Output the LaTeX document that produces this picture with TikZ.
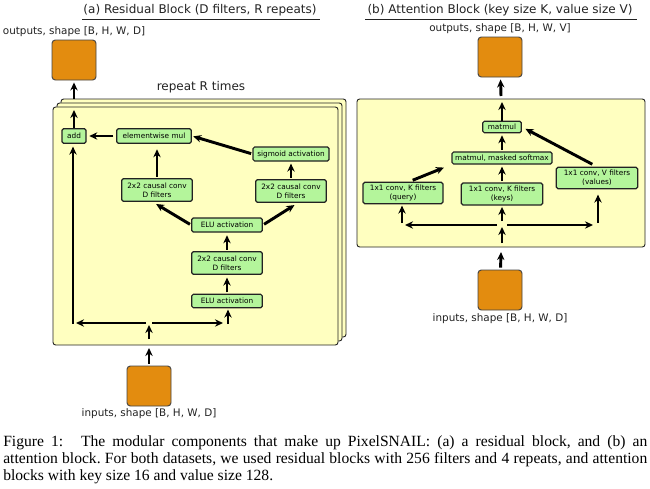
\documentclass[tikz,border=0pt]{standalone}
\usepackage{fontspec}
\setmainfont{Liberation Serif}
\newfontfamily\diagfont{DejaVu Sans}
\usepackage{tikz}
\usetikzlibrary{arrows.meta,positioning}
\definecolor{edge}{HTML}{222222}
\definecolor{panelfill}{HTML}{FFFFC0}
\definecolor{opfill}{HTML}{B4F59B}
\definecolor{tensorfill}{HTML}{E38C0F}
\tikzset{
  panel/.style={draw=edge, fill=panelfill, rounded corners=2pt, line width=0.7pt},
  opbox/.style={draw=edge, fill=opfill, rounded corners=1.2pt, line width=0.9pt, align=center,
    inner sep=0pt, font=\diagfont\fontsize{5.5}{6.6}\selectfont},
  tensor/.style={draw=edge!85, fill=tensorfill, rounded corners=2.5pt, line width=0.7pt,
    minimum width=33pt, minimum height=30pt, inner sep=0pt},
  lbl/.style={text=edge, font=\diagfont\fontsize{7.8}{9}\selectfont},
  ttl/.style={text=edge, font=\diagfont\fontsize{9}{10}\selectfont},
  arr/.style={draw=black, line width=2.2pt, -{Stealth[length=6pt,width=5.5pt]}}
}

\begin{document}
\begin{tikzpicture}[x=0.75pt,y=-0.75pt]
  \useasboundingbox (0,0) rectangle (650,489);

  % (a) residual block
  \node[ttl] (titlea) at (200,10) {(a) Residual Block (D filters, R repeats)};
  \draw[edge, line width=0.6pt] (82,19) -- (320,19);
  \node[lbl] (outalbl) at (74,32) {outputs, shape [B, H, W, D]};
  \node[tensor] (outa) at (74,60) {};
  \node[ttl] (repeat) at (201,87) {repeat R times};

  \draw[panel] (61,99) rectangle (346,337);
  \draw[panel] (57,103) rectangle (342,341);
  \draw[panel] (53,107) rectangle (338,345);

  \node[opbox, minimum width=18pt, minimum height=11pt] (add) at (74,136) {add};
  \node[opbox, minimum width=56pt, minimum height=11pt] (mul) at (154,136) {elementwise mul};
  \node[opbox, minimum width=57pt, minimum height=10.5pt] (sig) at (291,154) {sigmoid activation};
  \node[opbox, minimum width=53pt, minimum height=17pt] (convl) at (157,190) {2x2 causal conv\\D filters};
  \node[opbox, minimum width=53pt, minimum height=17pt] (convr) at (291,191) {2x2 causal conv\\D filters};
  \node[opbox, minimum width=53pt, minimum height=10.5pt] (eluu) at (227,225) {ELU activation};
  \node[opbox, minimum width=53pt, minimum height=17pt] (convm) at (227,263) {2x2 causal conv\\D filters};
  \node[opbox, minimum width=53pt, minimum height=10pt] (elul) at (227,301) {ELU activation};

  \node[tensor] (ina) at (149,386) {};
  \node[lbl] (inalbl) at (149,414) {inputs, shape [B, H, W, D]};

  \coordinate (topa) at (74,99);
  \coordinate (exita) at (74,110);
  \coordinate (bota) at (149,348);
  \coordinate (enta) at (149,339);
  \coordinate (splita) at (149,325);
  \coordinate (sla) at (146,323);
  \coordinate (sra) at (152,323);
  \coordinate (hla) at (76,323);
  \coordinate (hra) at (223,323);
  \coordinate (vla) at (73,324);
  \coordinate (vra) at (228,324);

  \draw[arr, shorten >=1.5pt] (topa) -- (outa);
  \draw[arr] (add) -- (exita);
  \draw[arr, shorten <=2pt, shorten >=2pt] (mul) -- (add);
  \draw[arr, shorten <=1pt, shorten >=1pt] (sig.west) -- (mul.east);
  \draw[arr, shorten <=1pt, shorten >=4pt] (convl) -- (convl |- mul.south);
  \draw[arr, shorten <=1pt, shorten >=1.5pt] (convr) -- (sig);
  \draw[arr, shorten <=1pt, shorten >=3pt] (eluu.west) -- (convl.250);
  \draw[arr, shorten <=1pt, shorten >=3pt] (eluu.east) -- (convr.300);
  \draw[arr, shorten <=1pt, shorten >=2pt] (convm) -- (eluu);
  \draw[arr, shorten <=1pt, shorten >=2pt] (elul) -- (convm);
  \draw[arr] (sla) -- (hla);
  \draw[arr] (sra) -- (hra);
  \draw[arr, shorten >=2pt] (vla) -- (vla |- add.south);
  \draw[arr, shorten >=1pt] (vra) -- (vra |- elul.south);
  \draw[arr] (enta) -- (splita);
  \draw[arr, shorten <=1.5pt] (ina) -- (bota);

  % (b) attention block
  \node[ttl] (titleb) at (500,10) {(b) Attention Block (key size K, value size V)};
  \draw[edge, line width=0.6pt] (365,19) -- (637,19);
  \node[lbl] (outblbl) at (500,29) {outputs, shape [B, H, W, V]};
  \node[tensor] (outb) at (500,57) {};

  \draw[panel] (357,99) rectangle (645,247);

  \node[opbox, minimum width=29pt, minimum height=8.5pt] (matmul) at (502,127) {matmul};
  \node[opbox, minimum width=75pt, minimum height=9pt] (soft) at (502,158) {matmul, masked softmax};
  \node[opbox, minimum width=60pt, minimum height=16pt] (query) at (403,193) {1x1 conv, K filters\\(query)};
  \node[opbox, minimum width=61pt, minimum height=16.5pt] (keys) at (502,194) {1x1 conv, K filters\\(keys)};
  \node[opbox, minimum width=61pt, minimum height=16pt] (values) at (597,178) {1x1 conv, V filters\\(values)};

  \node[tensor] (inb) at (500,290) {};
  \node[lbl] (inblbl) at (500,319) {inputs, shape [B, H, W, D]};

  \coordinate (topb) at (501,96);
  \coordinate (exitb) at (502,102);
  \coordinate (botb) at (501,252);
  \coordinate (entb) at (502,243);
  \coordinate (splitb) at (502,227);
  \coordinate (slb) at (497,225);
  \coordinate (srb) at (507,225);
  \coordinate (hlb) at (405,225);
  \coordinate (hrb) at (593,225);
  \coordinate (vqb) at (402,223);
  \coordinate (vkb) at (502,221);
  \coordinate (vvb) at (598,223);

  \draw[arr, shorten >=1.5pt] (topb) -- (outb);
  \draw[arr] (matmul) -- (exitb);
  \draw[arr, shorten <=1pt, shorten >=1.5pt] (soft) -- (matmul);
  \draw[arr, shorten <=1pt, shorten >=1.5pt] (keys) -- (soft);
  \draw[arr, shorten <=3pt, shorten >=6pt] (query.north) ++(6,0) -- (soft.south west);
  \draw[arr, shorten <=4pt, shorten >=3pt] (values.north) -- (matmul.east);
  \draw[arr] (slb) -- (hlb);
  \draw[arr] (srb) -- (hrb);
  \draw[arr, shorten >=1pt] (vqb) -- (vqb |- query.south);
  \draw[arr, shorten >=1pt] (vkb) -- (keys);
  \draw[arr, shorten >=4pt] (vvb) -- (vvb |- values.south);
  \draw[arr] (entb) -- (splitb);
  \draw[arr, shorten <=1.5pt] (inb) -- (botb);

  % caption
  \node[anchor=north west, inner sep=0pt, text width=483pt, align=justify,
    font=\fontsize{11.7}{12.8}\selectfont\frenchspacing] (caption) at (3,435)
    {Figure 1:\hspace{0.7em} The modular components that make up PixelSNAIL: (a) a residual block, and (b) an\linebreak
     attention block. For both datasets, we used residual blocks with 256 filters and 4 repeats, and attention\linebreak
     blocks with key size 16 and value size 128.};
\end{tikzpicture}
\end{document}
